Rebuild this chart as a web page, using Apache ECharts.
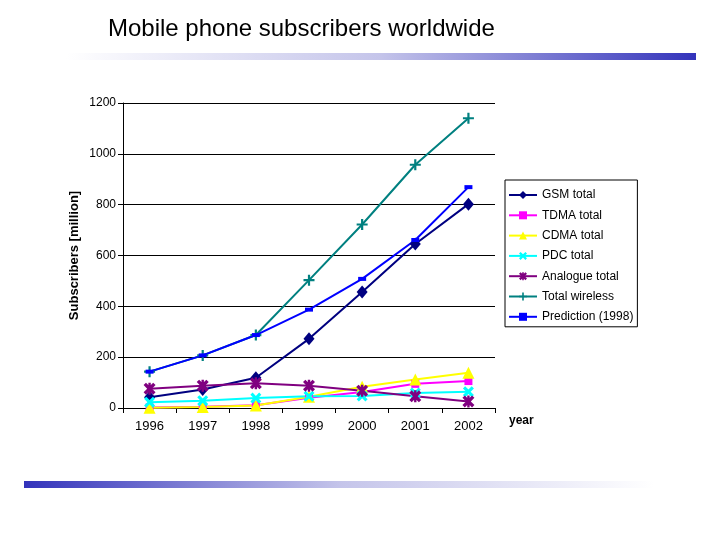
<!DOCTYPE html>
<html>
<head>
<meta charset="utf-8">
<script src="https://cdn.jsdelivr.net/npm/echarts@6/dist/echarts.min.js"></script>
<style>
html,body{margin:0;padding:0;background:#fff;}
#chart{width:720px;height:540px;}
</style>
</head>
<body>
<div id="chart"></div>
<script>
var years = ['1996','1997','1998','1999','2000','2001','2002'];
var yTicks = [0, 200, 400, 600, 800, 1000, 1200];
var gsmTotal = [42, 73, 119, 272, 456, 645, 802];
var tdmaTotal = [2, 5, 11, 40, 63, 95, 106];
var cdmaTotal = [1, 4, 10, 44, 84, 112, 139];
var pdcTotal = [23, 29, 39, 46, 47, 59, 64];
var analogueTotal = [76, 88, 97, 88, 68, 46, 26];
var totalWireless = [143, 207, 287, 503, 722, 957, 1140];
var prediction1998 = [143, 207, 287, 387, 508, 661, 869];
var seriesNames = ['GSM total','TDMA total','CDMA total','PDC total','Analogue total','Total wireless','Prediction (1998)'];

var FONT = "'Liberation Sans', Arial, sans-serif";
var X_PATH = 'path://M0,2 L2,0 L5,3 L8,0 L10,2 L7,5 L10,8 L8,10 L5,7 L2,10 L0,8 L3,5 Z';
var STAR_PATH = 'path://M0,2 L2,0 L5,3 L8,0 L10,2 L7,5 L10,8 L8,10 L5,7 L2,10 L0,8 L3,5 Z M4,0 L6,0 L6,10 L4,10 Z';
var PLUS_PATH = 'path://M4,0 L6,0 L6,4 L10,4 L10,6 L6,6 L6,10 L4,10 L4,6 L0,6 L0,4 L4,4 Z';
var DASH_PATH = 'path://M0,0 L10,0 L10,4 L0,4 Z';

function mk(name, data, color, symbol, size) {
  return {
    name: name, type: 'line', data: data,
    symbol: symbol, symbolSize: size, showAllSymbol: true,
    lineStyle: {color: color, width: 2},
    itemStyle: {color: color},
    emphasis: {disabled: true},
    animation: false
  };
}

var chart = echarts.init(document.getElementById('chart'));
chart.setOption({
  backgroundColor: '#ffffff',
  animation: false,
  title: {
    text: 'Mobile phone subscribers worldwide',
    left: 108, top: 17, padding: 0,
    textStyle: {fontFamily: FONT, fontSize: 24, fontWeight: 'normal', color: '#000'}
  },
  graphic: [
    {type: 'rect', shape: {x: 66, y: 53, width: 630, height: 7}, silent: true,
     style: {fill: new echarts.graphic.LinearGradient(0, 0, 1, 0, [
       {offset: 0, color: '#ffffff'}, {offset: 0.5, color: '#c4c4ea'}, {offset: 1, color: '#3333bb'}])}},
    {type: 'rect', shape: {x: 24, y: 481, width: 630, height: 7}, silent: true,
     style: {fill: new echarts.graphic.LinearGradient(0, 0, 1, 0, [
       {offset: 0, color: '#3333bb'}, {offset: 0.5, color: '#c4c4ea'}, {offset: 1, color: '#ffffff'}])}}
  ],
  legend: {
    orient: 'vertical', left: 505, top: 180,
    data: seriesNames,
    itemWidth: 28, itemHeight: 10, itemGap: 6.3,
    padding: [8, 4, 3, 3],
    borderColor: '#000', borderWidth: 1,
    backgroundColor: '#fff',
    textStyle: {fontFamily: FONT, fontSize: 12, color: '#000', lineHeight: 14},
    selectedMode: false
  },
  grid: {left: 123, right: 225, top: 103, bottom: 132, containLabel: false},
  xAxis: {
    type: 'category', data: years, boundaryGap: true,
    name: 'year', nameLocation: 'end', nameGap: 14,
    nameTextStyle: {fontFamily: FONT, fontSize: 12, fontWeight: 'bold', color: '#000', align: 'left', verticalAlign: 'top', padding: [7, 0, 0, 0]},
    axisLine: {show: true, lineStyle: {color: '#000', width: 1}},
    axisTick: {show: true, length: 5, interval: 0, lineStyle: {color: '#000'}},
    axisLabel: {fontFamily: FONT, fontSize: 13, color: '#000', margin: 12, interval: 0},
    splitLine: {show: false}
  },
  yAxis: {
    type: 'value', min: yTicks[0], max: yTicks[yTicks.length - 1], interval: 200,
    name: 'Subscribers [million]', nameLocation: 'middle', nameGap: 42, nameMoveOverlap: false,
    nameTextStyle: {fontFamily: FONT, fontSize: 13, fontWeight: 'bold', color: '#000'},
    axisLine: {show: true, lineStyle: {color: '#000', width: 1}},
    axisTick: {show: true, length: 5, lineStyle: {color: '#000'}},
    axisLabel: {fontFamily: FONT, fontSize: 12, color: '#000', margin: 7, formatter: function (v) { return String(v); }},
    splitLine: {show: true, lineStyle: {color: '#000', width: 1}}
  },
  series: [
    mk(seriesNames[0], gsmTotal, '#000080', 'diamond', [11, 13]),
    mk(seriesNames[1], tdmaTotal, '#ff00ff', 'rect', 8),
    mk(seriesNames[2], cdmaTotal, '#ffff00', 'triangle', 12),
    mk(seriesNames[3], pdcTotal, '#00ffff', X_PATH, 11),
    mk(seriesNames[4], analogueTotal, '#800080', STAR_PATH, 12),
    mk(seriesNames[5], totalWireless, '#008080', PLUS_PATH, 11),
    mk(seriesNames[6], prediction1998, '#0000ff', DASH_PATH, [8, 4])
  ]
});
</script>
</body>
</html>
